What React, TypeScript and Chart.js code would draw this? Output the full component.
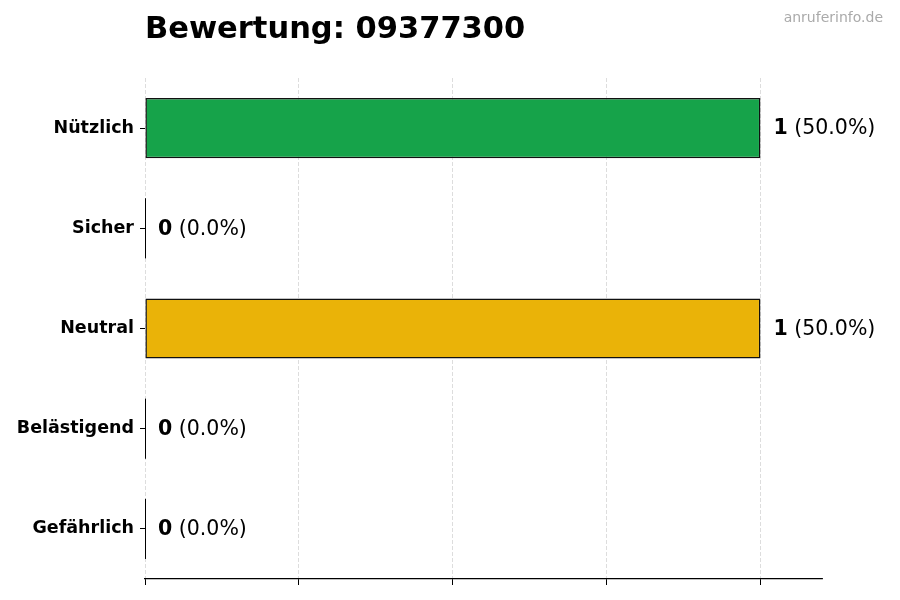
import React, { useEffect, useRef } from 'react'
import { Chart, registerables, ChartConfiguration, Plugin } from 'chart.js'

Chart.register(...registerables)

const title = 'Bewertung: 09377300'
const watermark = 'anruferinfo.de'
const categories = ['Nützlich', 'Sicher', 'Neutral', 'Belästigend', 'Gefährlich']
const counts = [1, 0, 1, 0, 0]
const barColors = ['#16a34a', '#3b82f6', '#eab308', '#f97316', '#dc2626']
const xTicks = [0, 0.25, 0.5, 0.75, 1]
const xMax = 1.1

const FONT = "'DejaVu Sans', sans-serif"

// labels next to the bars and the thin line for zero bars
const valueLabels: Plugin<'bar'> = {
    id: 'valueLabels',
    afterDatasetsDraw(chart) {
        const ctx = chart.ctx
        const meta = chart.getDatasetMeta(0)
        const total = counts.reduce((a, b) => a + b, 0)
        ctx.save()
        meta.data.forEach((el: any, i: number) => {
            const v = counts[i]
            if (v === 0) {
                const bx = Math.floor(el.base) + 0.5
                ctx.strokeStyle = '#000'
                ctx.lineWidth = 1
                ctx.beginPath()
                ctx.moveTo(bx, el.y - el.height / 2)
                ctx.lineTo(bx, el.y + el.height / 2)
                ctx.stroke()
            }
            const pct = total ? (v / total * 100).toFixed(1) : '0.0'
            let x = el.x + 13
            ctx.textBaseline = 'middle'
            ctx.textAlign = 'left'
            ctx.fillStyle = '#000'
            ctx.font = `bold 20.5px ${FONT}`
            const bold = String(v)
            ctx.fillText(bold, x, el.y + 1)
            x += ctx.measureText(bold).width
            ctx.font = `20.5px ${FONT}`
            ctx.fillText(` (${pct}%)`, x, el.y + 1)
        })
        ctx.restore()
    },
    afterDraw(chart) {
        const ctx = chart.ctx
        ctx.save()
        ctx.font = `14px ${FONT}`
        ctx.fillStyle = '#aaaaaa'
        ctx.textAlign = 'right'
        ctx.textBaseline = 'middle'
        ctx.fillText(watermark, 883, 18)
        ctx.restore()
    }
}

function RatingChart() {
    const canvasRef = useRef<HTMLCanvasElement | null>(null)
    const chartRef = useRef<Chart<'bar', number[], string> | null>(null)

    useEffect(() => {
        if (!canvasRef.current) return
        const config: ChartConfiguration<'bar', number[], string> = {
            type: 'bar',
            data: {
                labels: categories,
                datasets: [
                    {
                        data: counts,
                        backgroundColor: barColors,
                        borderColor: '#111',
                        borderWidth: 1.5,
                        borderSkipped: false,
                        barPercentage: 0.6,
                        categoryPercentage: 1
                    }
                ]
            },
            options: {
                indexAxis: 'y',
                responsive: false,
                animation: false,
                layout: { padding: { left: 0, right: 78, top: 0, bottom: 0 } },
                plugins: {
                    legend: { display: false },
                    tooltip: { enabled: false },
                    title: {
                        display: true,
                        text: title,
                        align: 'start',
                        fullSize: false,
                        color: '#000',
                        font: { family: FONT, size: 30.5, weight: 'bold' },
                        padding: { top: 12, bottom: 29.4 }
                    }
                },
                scales: {
                    x: {
                        type: 'linear',
                        min: 0,
                        max: xMax,
                        afterBuildTicks: (scale) => {
                            scale.ticks = xTicks.map((v) => ({ value: v }))
                        },
                        afterFit: (scale) => {
                            scale.height = 21
                        },
                        ticks: { display: false },
                        grid: {
                            color: '#d4d4d4',
                            lineWidth: 0.8,
                            drawTicks: true,
                            tickLength: 6,
                            tickColor: '#000',
                            tickWidth: 1,
                            tickBorderDash: []
                        },
                        border: { display: true, color: '#000', width: 1.2, dash: [4, 2] }
                    },
                    y: {
                        type: 'category',
                        afterFit: (scale) => {
                            scale.width = 145
                        },
                        ticks: {
                            color: '#000',
                            padding: 6,
                            font: { family: FONT, size: 17.5, weight: 'bold' }
                        },
                        grid: {
                            offset: false,
                            drawOnChartArea: false,
                            drawTicks: true,
                            tickLength: 5,
                            tickColor: '#000',
                            tickWidth: 1
                        },
                        border: { display: false }
                    }
                }
            },
            plugins: [valueLabels]
        }
        chartRef.current = new Chart(canvasRef.current, config)
        return () => {
            chartRef.current?.destroy()
        }
    }, [])

    return <canvas ref={canvasRef} width={900} height={600} />
}

export default function App() {
    return (
        <div style={{ position: 'absolute', left: 0, top: 0, width: 900, height: 600, background: '#fff' }}>
            <RatingChart />
        </div>
    )
}
